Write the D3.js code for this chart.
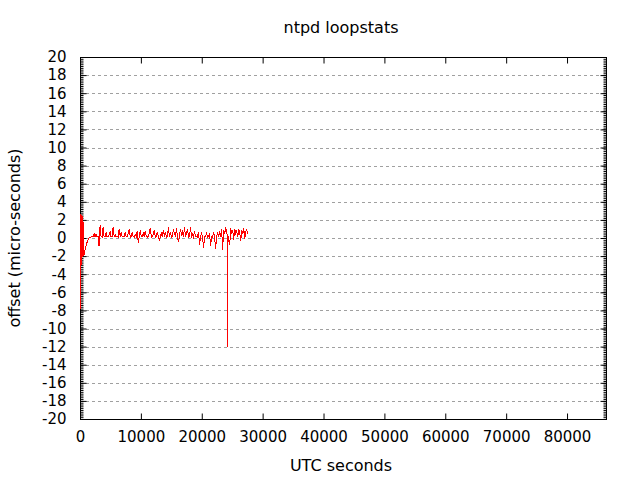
<!DOCTYPE html>
<html><head><meta charset="utf-8">
<script src="https://cdn.jsdelivr.net/npm/d3@7"></script>
<style>body{margin:0;background:#fff}svg{display:block}text{font-family:"DejaVu Sans",sans-serif;fill:#000}</style>
</head><body>
<script>
const title = "ntpd loopstats";
const xLabel = "UTC seconds";
const yLabel = "offset (micro-seconds)";
const xTicks = [0,10000,20000,30000,40000,50000,60000,70000,80000];
const yTicks = [-20,-18,-16,-14,-12,-10,-8,-6,-4,-2,0,2,4,6,8,10,12,14,16,18,20];
const xDomain = [0, 86400];
const yDomain = [-20, 20];

// startup transient
const startSeconds = [0,30,60,90,120,150,180,220,260,300,340,380,420,460,500,540,580,620,680,760,850,930,1020,1110,1200,1300,1400,1500,1650,1800];
const startOffset = [2.4,-7.9,2.5,-6.0,2.6,-4.5,2.3,-3.0,2.5,-2.3,2.4,-2.1,2.2,-2.0,1.8,-2.0,1.2,-2.0,-1.8,-1.5,-1.25,-1.05,-0.8,-0.6,-0.4,-0.25,-0.1,0.0,0.05,0.1];

// steady state
const runSeconds = [1980,2145,2310,2475,2640,2805,2970,3135,3300,3465,3630,3795,3960,4125,4290,4455,4620,4785,4950,5115,
5280,5445,5610,5775,5940,6105,6270,6435,6600,6765,6930,7095,7260,7425,7590,7755,7920,8085,8250,8415,
8580,8745,8910,9075,9240,9405,9570,9735,9900,10065,10230,10395,10560,10725,10890,11055,11220,11385,11550,11715,
11880,12045,12210,12375,12540,12705,12870,13035,13200,13365,13530,13695,13860,14025,14190,14355,14520,14685,14850,15015,
15180,15345,15510,15675,15840,16005,16170,16335,16500,16665,16830,16995,17160,17325,17490,17655,17820,17985,18150,18315,
18480,18645,18810,18975,19140,19305,19470,19635,19800,19965,20130,20295,20460,20625,20790,20955,21120,21285,21450,21615,
21780,21945,22110,22275,22440,22605,22770,22935,23100,23265,23430,23595,23760,23925,24230,24255,24280,24585,24750,24915,
25080,25245,25410,25575,25740,25905,26070,26235,26400,26565,26730,26895,27060,27225,27390,27555];
const runOffset = [0.15,0.1,0.5,0.15,0.4,0.15,0.15,-0.9,1.4,0.15,0.1,1.2,0.15,0.15,0.6,0.1,0.15,0.4,0.7,0.1,
0.15,1.2,0.15,0.4,0.1,0.15,0.1,1.0,0.15,0.6,0.1,0.15,0.15,0.7,0.1,0.15,0.5,1.0,0.1,0.15,
0.6,0.15,0.1,0.4,0.15,0.8,-0.5,0.15,0.9,0.15,0.15,0.6,0.1,0.8,0.15,0.1,0.15,0.6,1.1,0.1,
0.15,0.4,0.9,0.1,0.15,0.7,0.15,-0.3,0.15,0.6,0.1,0.9,0.15,0.7,0.1,0.15,1.2,0.15,0.6,0.1,
0.15,1.0,0.5,0.15,1.1,0.1,-0.4,0.15,1.0,0.4,0.7,0.1,1.2,0.15,0.5,1.0,0.1,0.15,1.2,0.15,
0.4,0.1,0.8,0.15,0.15,0.1,0.7,-0.8,0.15,0.5,0.1,-1.1,0.15,0.15,0.6,0.1,0.15,0.5,-0.9,0.15,
0.1,0.6,0.15,-1.2,0.15,0.7,0.1,0.8,0.15,1.0,-1.3,0.9,0.4,1.2,0.2,-12.0,0.3,-0.8,1.1,0.4,
0.9,-0.2,1.0,0.5,0.8,0.1,1.0,0.6,-0.3,0.9,0.4,1.1,-0.1,0.7,0.9,0.5];

const W = 640, H = 480;
const m = {left: 80, top: 57, right: 606, bottom: 419};
const svg = d3.select("body").append("svg").attr("width", W).attr("height", H);
const x = d3.scaleLinear().domain(xDomain).range([m.left, m.right]);
const y = d3.scaleLinear().domain(yDomain).range([m.bottom, m.top]);
const fs = 15, lfs = 16;

// grid
svg.append("g").selectAll("line").data(yTicks.filter(v => v > yDomain[0] && v < yDomain[1])).join("line")
  .attr("x1", m.left).attr("x2", m.right)
  .attr("y1", d => Math.round(y(d)) + 0.5).attr("y2", d => Math.round(y(d)) + 0.5)
  .attr("stroke", "#a0a0a0").attr("stroke-width", 1).attr("stroke-dasharray", "3,3");

// axes
const minor = d3.range(yDomain[0], yDomain[1] + 0.001, 0.2).map(v => +v.toFixed(2));
const gL = svg.append("g").attr("transform", `translate(${m.left + 0.5},0)`);
gL.call(d3.axisLeft(y).tickValues(yTicks).tickSize(-6).tickFormat(d => d).tickPadding(14));
const gLm = svg.append("g").attr("transform", `translate(${m.left + 0.5},0)`);
gLm.call(d3.axisLeft(y).tickValues(minor).tickSize(-3).tickFormat(""));
const gR = svg.append("g").attr("transform", `translate(${m.right + 0.5},0)`);
gR.call(d3.axisRight(y).tickValues(yTicks).tickSize(-6).tickFormat(""));
const gRm = svg.append("g").attr("transform", `translate(${m.right + 0.5},0)`);
gRm.call(d3.axisRight(y).tickValues(minor).tickSize(-3).tickFormat(""));
const gB = svg.append("g").attr("transform", `translate(0,${m.bottom + 0.5})`);
gB.call(d3.axisBottom(x).tickValues(xTicks).tickSize(-6).tickFormat(d => d).tickPadding(12));
const gT = svg.append("g").attr("transform", `translate(0,${m.top + 0.5})`);
gT.call(d3.axisTop(x).tickValues(xTicks).tickSize(-6).tickFormat(""));
[gL, gLm, gR, gRm, gB, gT].forEach(g => {
  g.select(".domain").remove();
  g.selectAll("line").attr("stroke", "#000");
  g.selectAll("text").style("font-family", '"DejaVu Sans",sans-serif').style("font-size", fs + "px").attr("fill", "#000");
});
svg.append("rect").attr("x", m.left + 0.5).attr("y", m.top + 0.5)
  .attr("width", m.right - m.left).attr("height", m.bottom - m.top)
  .attr("fill", "none").attr("stroke", "#000").attr("stroke-width", 1);

// data (drawn over the border, as in the reference)
const pts = startSeconds.map((t, i) => [t, startOffset[i]])
  .concat(runSeconds.map((t, i) => [t, runOffset[i]]));
svg.append("path").datum(pts)
  .attr("d", d3.line().x(d => x(d[0])).y(d => y(d[1])))
  .attr("fill", "none").attr("stroke", "#ff0000").attr("stroke-width", 1)
  .attr("shape-rendering", "crispEdges");

// labels
svg.append("text").attr("x", 341).attr("y", 27).attr("text-anchor", "middle").attr("dominant-baseline", "central")
  .style("font-size", lfs + "px").text(title);
svg.append("text").attr("x", 341).attr("y", 465).attr("text-anchor", "middle").attr("dominant-baseline", "central")
  .style("font-size", lfs + "px").text(xLabel);
svg.append("text").attr("transform", "translate(14,238) rotate(-90)").attr("text-anchor", "middle").attr("dominant-baseline", "central")
  .style("font-size", lfs + "px").text(yLabel);
</script>
</body></html>
